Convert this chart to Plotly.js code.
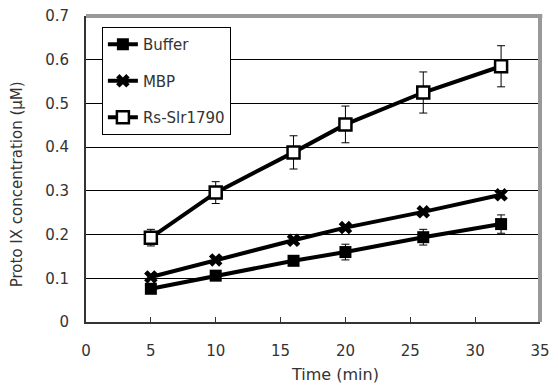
<!DOCTYPE html>
<html>
<head>
<meta charset="utf-8">
<script src="https://cdn.plot.ly/plotly-3.0.1.min.js"></script>
<style>html,body{margin:0;padding:0;background:#fff;}#chart{width:558px;height:390px;}</style>
</head>
<body>
<div id="chart"></div>
<script>
const time = [5, 10, 16, 20, 26, 32];
const buffer = [0.076, 0.106, 0.140, 0.160, 0.194, 0.224];
const bufferErr = [0.006, 0.006, 0.007, 0.018, 0.018, 0.021];
const mbp = [0.103, 0.142, 0.187, 0.216, 0.252, 0.291];
const rs = [0.193, 0.296, 0.388, 0.452, 0.525, 0.585];
const rsErr = [0.019, 0.025, 0.038, 0.042, 0.047, 0.047];
const xTicks = [0, 5, 10, 15, 20, 25, 30, 35];
const yTicks = [0, 0.1, 0.2, 0.3, 0.4, 0.5, 0.6, 0.7];

const FONT = 'DejaVu Sans, Liberation Sans, Arial, sans-serif';
const err = arr => ({type: 'data', array: arr, visible: true, color: '#000', thickness: 1, width: 4});

const traces = [
  {x: time, y: buffer, name: 'Buffer', legendgroup: 'a', mode: 'lines+markers', error_y: err(bufferErr),
   line: {color: '#000', width: 4}, marker: {symbol: 'square', size: 12, color: '#000'}},
  {x: time, y: mbp, name: 'MBP', legendgroup: 'b', mode: 'lines+markers',
   line: {color: '#000', width: 4}, marker: {symbol: 'x', size: 12, color: '#000'}},
  {x: time, y: rs, name: 'Rs-Slr1790', legendgroup: 'c', mode: 'lines+markers', error_y: err(rsErr),
   line: {color: '#000', width: 4}, marker: {symbol: 'square', size: 12, color: '#fff', line: {color: '#000', width: 2.5}}}
];

const layout = {
  width: 558, height: 390,
  margin: {l: 86, r: 18, t: 16, b: 68},
  paper_bgcolor: '#fff', plot_bgcolor: '#fff',
  font: {family: FONT, size: 15, color: '#333'},
  showlegend: true,
  legend: {x: 0.035, y: 0.964, xanchor: 'left', yanchor: 'top', bgcolor: '#fff',
    bordercolor: '#000', borderwidth: 1, traceorder: 'grouped', tracegroupgap: 14,
    itemwidth: 30, font: {family: FONT, size: 15, color: '#333'}},
  xaxis: {range: [0, 35], tickvals: xTicks, ticktext: xTicks.map(String), ticks: 'inside', ticklen: 5,
    tickcolor: '#333', showgrid: false, zeroline: false, showline: true, linecolor: '#333', linewidth: 2,
    ticklabelstandoff: 14, tickfont: {family: FONT, size: 15, color: '#333'}},
  yaxis: {range: [0, 0.7], tickvals: yTicks, ticktext: yTicks.map(v => v === 0 ? '0' : v.toFixed(1)),
    ticks: '', showgrid: true, gridcolor: '#000', gridwidth: 1, zeroline: false, showline: true,
    linecolor: '#333', linewidth: 2, ticklabelstandoff: 12, tickfont: {family: FONT, size: 15, color: '#333'}},
  shapes: [
    {type: 'line', xref: 'paper', yref: 'paper', x0: 0, x1: 1.005, y0: 1, y1: 1, line: {color: '#999', width: 4}},
    {type: 'line', xref: 'paper', yref: 'paper', x0: 1, x1: 1, y0: 0, y1: 1, line: {color: '#999', width: 4}}
  ],
  annotations: [
    {text: 'Time (min)', xref: 'paper', yref: 'paper', x: 0.548, y: -0.17, xanchor: 'center', yanchor: 'middle',
     showarrow: false, font: {family: FONT, size: 16, color: '#333'}},
    {text: 'Proto IX concentration (μM)', xref: 'paper', yref: 'paper', x: -0.152, y: 0.45, xanchor: 'center', yanchor: 'middle',
     textangle: -90, showarrow: false, font: {family: FONT, size: 15, color: '#333'}}
  ]
};

Plotly.newPlot('chart', traces, layout, {displayModeBar: false, staticPlot: true});
</script>
</body>
</html>
